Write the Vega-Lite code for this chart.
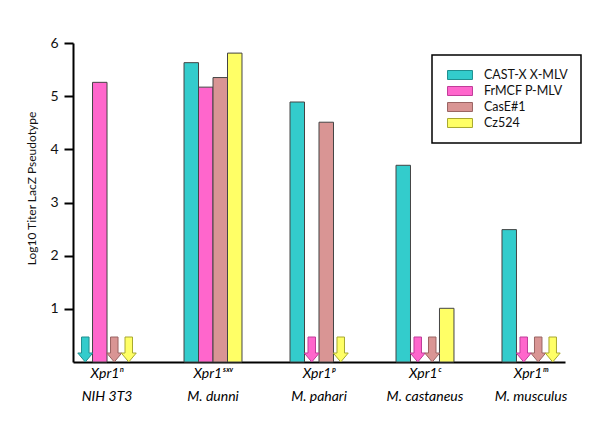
{
  "$schema": "https://vega.github.io/schema/vega-lite/v6.json",
  "width": 492,
  "height": 319,
  "autosize": {"type": "none"},
  "padding": {"left": 73, "top": 43, "right": 35, "bottom": 59},
  "background": "white",
  "config": {
    "view": {"stroke": null},
    "font": "Lato"
  },
  "data": {
    "values": [
      {"group": "Xpr1ⁿ|NIH 3T3", "series": "CAST-X X-MLV", "value": null, "nd": true},
      {"group": "Xpr1ⁿ|NIH 3T3", "series": "FrMCF P-MLV", "value": 5.26, "nd": false},
      {"group": "Xpr1ⁿ|NIH 3T3", "series": "CasE#1", "value": null, "nd": true},
      {"group": "Xpr1ⁿ|NIH 3T3", "series": "Cz524", "value": null, "nd": true},
      {"group": "Xpr1ˢˣᵛ|M. dunni", "series": "CAST-X X-MLV", "value": 5.63, "nd": false},
      {"group": "Xpr1ˢˣᵛ|M. dunni", "series": "FrMCF P-MLV", "value": 5.17, "nd": false},
      {"group": "Xpr1ˢˣᵛ|M. dunni", "series": "CasE#1", "value": 5.35, "nd": false},
      {"group": "Xpr1ˢˣᵛ|M. dunni", "series": "Cz524", "value": 5.81, "nd": false},
      {"group": "Xpr1ᵖ|M. pahari", "series": "CAST-X X-MLV", "value": 4.89, "nd": false},
      {"group": "Xpr1ᵖ|M. pahari", "series": "FrMCF P-MLV", "value": null, "nd": true},
      {"group": "Xpr1ᵖ|M. pahari", "series": "CasE#1", "value": 4.51, "nd": false},
      {"group": "Xpr1ᵖ|M. pahari", "series": "Cz524", "value": null, "nd": true},
      {"group": "Xpr1ᶜ|M. castaneus", "series": "CAST-X X-MLV", "value": 3.70, "nd": false},
      {"group": "Xpr1ᶜ|M. castaneus", "series": "FrMCF P-MLV", "value": null, "nd": true},
      {"group": "Xpr1ᶜ|M. castaneus", "series": "CasE#1", "value": null, "nd": true},
      {"group": "Xpr1ᶜ|M. castaneus", "series": "Cz524", "value": 1.01, "nd": false},
      {"group": "Xpr1ᵐ|M. musculus", "series": "CAST-X X-MLV", "value": 2.49, "nd": false},
      {"group": "Xpr1ᵐ|M. musculus", "series": "FrMCF P-MLV", "value": null, "nd": true},
      {"group": "Xpr1ᵐ|M. musculus", "series": "CasE#1", "value": null, "nd": true},
      {"group": "Xpr1ᵐ|M. musculus", "series": "Cz524", "value": null, "nd": true}
    ]
  },
  "encoding": {
    "x": {
      "field": "group",
      "type": "nominal",
      "sort": null,
      "scale": {"paddingInner": 0.453, "paddingOuter": 0.0475},
      "axis": {
        "title": null,
        "labelAngle": 0,
        "labelExpr": "split(datum.value, '|')",
        "labelFont": "Lato",
        "labelFontStyle": "italic",
        "labelFontSize": 14,
        "labelColor": "#000",
        "labelLineHeight": 23,
        "labelPadding": 4,
        "ticks": false,
        "domainColor": "#000",
        "domainWidth": 2
      }
    },
    "xOffset": {
      "field": "series",
      "type": "nominal",
      "sort": null,
      "scale": {"domain": ["CAST-X X-MLV", "FrMCF P-MLV", "CasE#1", "Cz524"], "paddingInner": 0, "paddingOuter": 0}
    },
    "color": {
      "field": "series",
      "type": "nominal",
      "scale": {
        "domain": ["CAST-X X-MLV", "FrMCF P-MLV", "CasE#1", "Cz524"],
        "range": ["#33CCCC", "#FF66CC", "#D99594", "#FFFF66"]
      },
      "legend": {
        "title": null,
        "orient": "none",
        "legendX": 359,
        "legendY": 12,
        "padding": 13,
        "strokeColor": "#000",
        "fillColor": "white",
        "symbolType": "M-1.92,-0.69L1.92,-0.69L1.92,0.69L-1.92,0.69Z",
        "symbolSize": 169,
        "symbolOffset": 8,
        "symbolStrokeColor": "#333",
        "symbolStrokeWidth": 1,
        "labelFont": "Lato",
        "labelFontSize": 12.5,
        "labelColor": "#111",
        "labelOffset": 17,
        "rowPadding": 2,
        "encode": {"legend": {"update": {"strokeWidth": {"value": 1.5}}}}
      }
    }
  },
  "layer": [
    {
      "transform": [{"filter": "datum.nd == false"}],
      "mark": {"type": "bar", "stroke": "#444", "strokeWidth": 1},
      "encoding": {
        "y": {
          "field": "value",
          "type": "quantitative",
          "scale": {"domain": [0, 6], "nice": false},
          "axis": {
            "title": "Log10 Titer LacZ Pseudotype",
            "titleFont": "Lato",
            "titleFontWeight": "normal",
            "titleFontSize": 12,
            "titleColor": "#111",
            "titlePadding": 11,
            "titleY": 145,
            "values": [1, 2, 3, 4, 5, 6],
            "grid": false,
            "labelFont": "Lato",
            "labelFontSize": 14,
            "labelColor": "#111",
            "labelPadding": 6,
            "tickSize": 9,
            "tickWidth": 2,
            "tickColor": "#000",
            "domainColor": "#000",
            "domainWidth": 2
          }
        }
      }
    },
    {
      "transform": [{"filter": "datum.nd == true"}],
      "mark": {
        "type": "point",
        "shape": "M-0.3,-1L0.3,-1L0.3,0.28L0.6,0.28L0,1L-0.6,0.28L-0.3,0.28Z",
        "size": 625,
        "filled": true,
        "opacity": 1,
        "strokeWidth": 1
      },
      "encoding": {
        "y": {"datum": 0.235, "type": "quantitative"},
        "stroke": {
          "field": "series",
          "type": "nominal",
          "scale": {
            "domain": ["CAST-X X-MLV", "FrMCF P-MLV", "CasE#1", "Cz524"],
            "range": ["#1f8f8f", "#c03c99", "#9a6463", "#a8a830"]
          },
          "legend": null
        }
      }
    }
  ]
}
